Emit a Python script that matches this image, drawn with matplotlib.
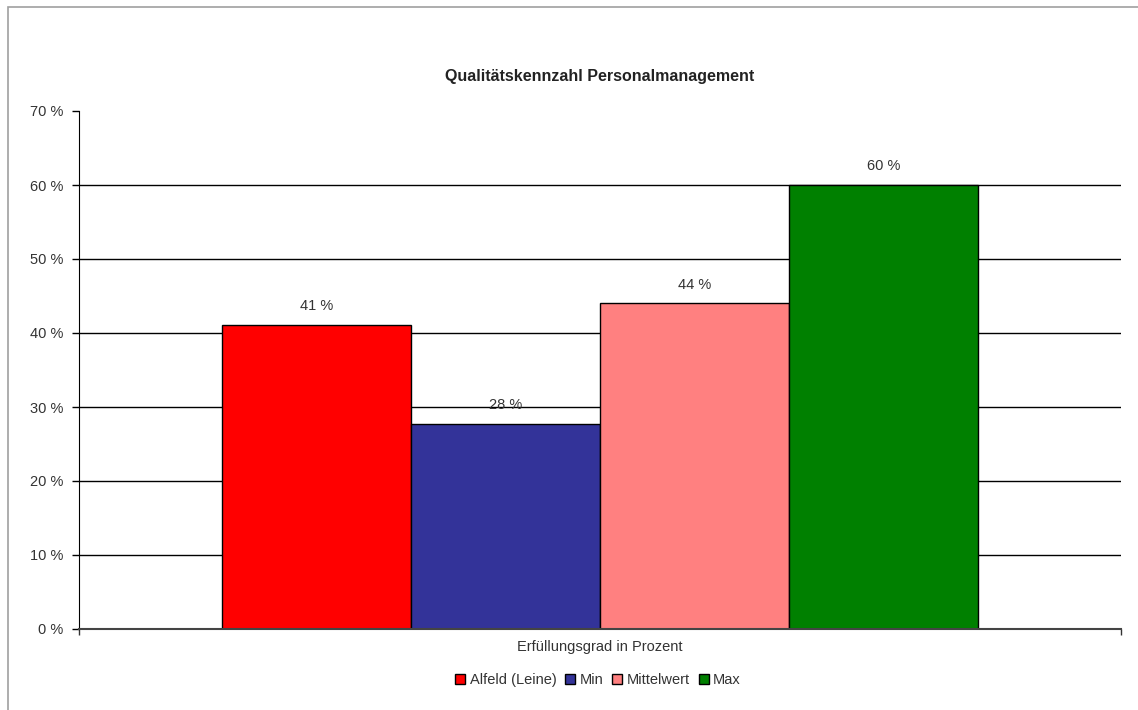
import matplotlib
matplotlib.use("Agg")
import matplotlib.pyplot as plt
from matplotlib.patches import Rectangle, Patch

plt.rcParams['font.family'] = ['Liberation Sans', 'DejaVu Sans']

# data
series = ['Alfeld (Leine)', 'Min', 'Mittelwert', 'Max']
values = [41.1, 27.7, 44.0, 60.0]
labels = ['41 %', '28 %', '44 %', '60 %']
colors = ['#FF0000', '#333399', '#FF8080', '#008000']
category = 'Erfüllungsgrad in Prozent'
yticks = [0, 10, 20, 30, 40, 50, 60, 70]

fig = plt.figure(figsize=(11.38, 7.10), dpi=100)
ax = fig.add_axes([79/1138, 1 - 629/710, (1121 - 79)/1138, (629 - 111)/710])

# outer chart border (only top/left visible in the picture)
fig.patches.append(Rectangle((8/1138, -0.05), 1.2, 1 - 7/710 + 0.05, transform=fig.transFigure,
                             fill=False, edgecolor='#A0A0A0', linewidth=1.2))

w = 0.1816
for i, (name, v, c, lab) in enumerate(zip(series, values, colors, labels)):
    x = (i - 1.5) * w
    ax.bar(x, v, width=w, color=c, edgecolor='black', linewidth=1, zorder=3)
    ax.annotate(lab, (x, v), xytext=(0, 13.5), textcoords='offset points',
                ha='center', va='center', fontsize=10.5, color='#333333', zorder=2)

ax.set_xlim(-0.5, 0.5)
ax.set_ylim(0, 70)
ax.set_yticks(yticks)
ax.set_yticklabels(['%d %%' % t for t in yticks], fontsize=10.5, color='#333333')
ax.set_xticks([-0.5, 0.5])
ax.set_xticklabels([])
ax.tick_params(axis='x', direction='out', length=4, width=1, color='#333333')
ax.tick_params(axis='y', direction='out', length=5, width=1, color='black', pad=6)
ax.grid(axis='y', color='black', linewidth=1, zorder=2.5)
ax.get_ygridlines()[-1].set_visible(False)
for s in ['top', 'right']:
    ax.spines[s].set_visible(False)
ax.spines['left'].set_color('black')
ax.spines['bottom'].set_color('#444444')
ax.spines['bottom'].set_linewidth(1.5)
ax.spines['bottom'].set_zorder(5)

fig.text(600/1138, 1 - 76/710, 'Qualitätskennzahl Personalmanagement', ha='center', va='center',
         fontsize=11.5, fontweight='bold', color='#222222')
fig.text(600/1138, 1 - 647/710, category, ha='center', va='center', fontsize=10.5, color='#333333')

handles = [Patch(facecolor=c, edgecolor='black', linewidth=1) for c in colors]
fig.legend(handles, series, loc='center', bbox_to_anchor=(598/1138, 1 - 680/710), ncol=4,
           frameon=False, fontsize=10.5, handlelength=0.7, handleheight=0.7,
           handletextpad=0.3, columnspacing=0.6, labelcolor='#333333')

fig.savefig('out.png', dpi=100)
